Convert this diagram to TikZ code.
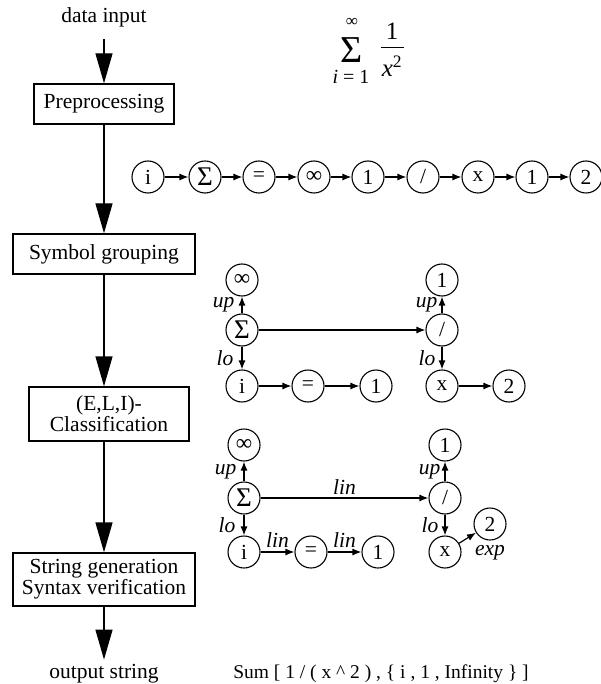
\documentclass[tikz,border=0pt]{standalone}
\usepackage{fontspec}
\setmainfont{Liberation Serif}
\usetikzlibrary{arrows.meta}
\begin{document}
\begin{tikzpicture}[x=1pt,y=-1pt,
  every node/.style={font=\fontsize{21.5}{23}\selectfont},
  flowbox/.style={draw, line width=1.4pt, inner sep=0pt, align=center, font=\fontsize{21.5}{19}\selectfont},
  sym/.style={draw, circle, line width=1.1pt, minimum size=32pt, inner sep=0pt},
  big/.style={font=\fontsize{27}{27}\selectfont},
  inf/.style={font=\fontsize{23}{23}\selectfont},
  link/.style={line width=1.2pt, -{Latex[length=9pt,width=7pt]}},
  flow/.style={line width=1.4pt, -{Triangle[length=30pt,width=17pt]}},
  lab/.style={font=\fontsize{21.5}{23}\selectfont\itshape, inner sep=1pt}
]
\useasboundingbox (0,0) rectangle (601,684);

% ---- flow column ----
\node (din) at (104,17) {data input};
\node[flowbox, minimum width=140pt, minimum height=40pt] (pre) at (104,104) {Preprocessing};
\node[flowbox, minimum width=182pt, minimum height=40pt] (grp) at (104,254) {Symbol grouping};
\node[flowbox, minimum width=160pt, minimum height=54pt] (cls) at (109,414) {(E,L,I)-\\Classification};
\node[flowbox, minimum width=182pt, minimum height=53pt] (sg) at (104,579.5) {String generation\\Syntax verification};
\node[anchor=base, inner sep=4pt] (out) at (104,678) {output string};
\node[anchor=base, font=\fontsize{19.5}{21}\selectfont] (res) at (381,678) {Sum [ 1 / ( x \^{} 2 ) , \{ i , 1 , Infinity \} ]};

\draw[flow] ([yshift=-9pt]din.south) -- (pre.north);
\draw[flow] (pre.south) -- (grp.north);
\draw[flow] (grp.south) -- (grp.south |- cls.north);
\draw[flow] (grp.south |- cls.south) -- (sg.north);
\draw[flow] (sg.south) -- (sg.south |- out.north);

% ---- formula ----
\node[font=\fontsize{38}{38}\selectfont] (bigsig) at (352,50) {Σ};
\node[font=\fontsize{17}{17}\selectfont] (supinf) at (352,22) {∞};
\node[font=\fontsize{20}{20}\selectfont] (lowlim) at (351,77) {\textit{i} = 1};
\node[font=\fontsize{25}{25}\selectfont] (num) at (392,31) {1};
\node[font=\fontsize{25}{25}\selectfont] (den) at (392,66) {\textit{x}\textsuperscript{2}};
\coordinate (barl) at (381,48);
\coordinate (barr) at (404,48);
\draw[line width=1pt] (barl) -- (barr);

% ---- symbol chain ----
\node[sym] (c1) at (148,177) {i};
\node[sym, big] (c2) at (205,177) {Σ};
\node[sym] (c3) at (259,177) {=};
\node[sym, inf] (c4) at (314,177) {∞};
\node[sym] (c5) at (368,177) {1};
\node[sym] (c6) at (423,177) {/};
\node[sym] (c7) at (478,177) {x};
\node[sym] (c8) at (532,177) {1};
\node[sym] (c9) at (586,177) {2};
\foreach \a/\b in {c1/c2,c2/c3,c3/c4,c4/c5,c5/c6,c6/c7,c7/c8,c8/c9}
  \draw[link] (\a) -- (\b);

% ---- tree 1 ----
\node[sym, inf] (t1inf) at (242,280) {∞};
\node[sym, big] (t1sig) at (242,330) {Σ};
\node[sym] (t1i) at (242,386) {i};
\node[sym] (t1eq) at (308,386) {=};
\node[sym] (t1one) at (376,386) {1};
\node[sym] (t1div) at (442,330) {/};
\node[sym] (t1top) at (442,280) {1};
\node[sym] (t1x) at (442,386) {x};
\node[sym] (t1two) at (509,386) {2};
\draw[link] (t1sig) -- node[lab, left=6pt] {up} (t1inf);
\draw[link] (t1sig) -- node[lab, left=7pt] {lo} (t1i);
\draw[link] (t1sig) -- (t1div);
\draw[link] (t1div) -- node[lab, left=3pt] {up} (t1top);
\draw[link] (t1div) -- node[lab, left=5pt] {lo} (t1x);
\draw[link] (t1i) -- (t1eq);
\draw[link] (t1eq) -- (t1one);
\draw[link] (t1x) -- (t1two);

% ---- tree 2 ----
\node[sym, inf] (t2inf) at (244,445) {∞};
\node[sym, big] (t2sig) at (244,498) {Σ};
\node[sym] (t2i) at (244,552) {i};
\node[sym] (t2eq) at (311,552) {=};
\node[sym] (t2one) at (378,552) {1};
\node[sym] (t2div) at (445,498) {/};
\node[sym] (t2top) at (445,445) {1};
\node[sym] (t2x) at (445,552) {x};
\node[sym] (t2two) at (490,524) {2};
\draw[link] (t2sig) -- node[lab, left=6pt] {up} (t2inf);
\draw[link] (t2sig) -- node[lab, left=7pt] {lo} (t2i);
\draw[link] (t2sig) -- node[lab, above=2pt] {lin} (t2div);
\draw[link] (t2div) -- node[lab, left=3pt] {up} (t2top);
\draw[link] (t2div) -- node[lab, left=5pt] {lo} (t2x);
\draw[link] (t2i) -- node[lab, above=3pt] {lin} (t2eq);
\draw[link] (t2eq) -- node[lab, above=3pt] {lin} (t2one);
\draw[link] (t2x) -- node[lab, below right=6pt] {exp} (t2two);
\end{tikzpicture}
\end{document}
